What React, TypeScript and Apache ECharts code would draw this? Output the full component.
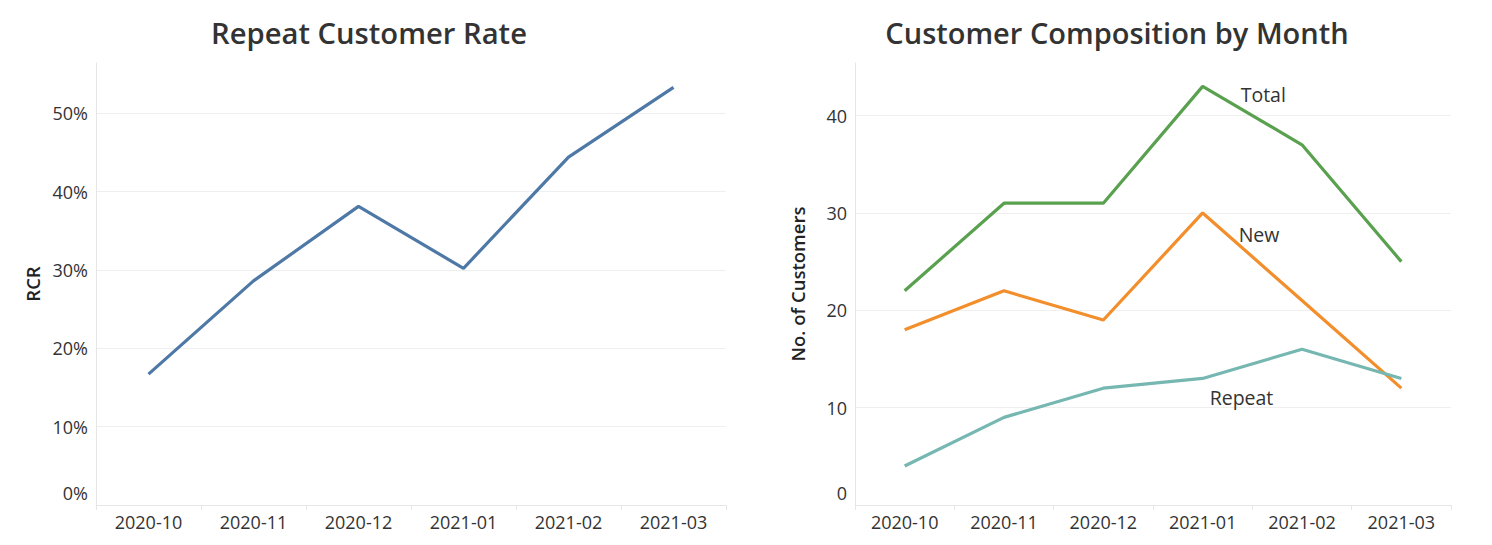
import React, { useEffect, useRef } from "react";
import * as echarts from "echarts";

const months = ["2020-10", "2020-11", "2020-12", "2021-01", "2021-02", "2021-03"];
const rcr = [0.167, 0.286, 0.381, 0.302, 0.444, 0.533];
const totalCustomers = [22, 31, 31, 43, 37, 25];
const newCustomers = [18, 22, 19, 30, 21, 12];
const repeatCustomers = [4, 9, 12, 13, 16, 13];
const labelIndex = 3;

const FONT = "'Open Sans', 'Noto Sans', sans-serif";
const GRID_COLOR = "#efefef";
const AXIS_COLOR = "#e6e6e6";
const TICK_SIZE = 18;

function withLabel(values: number[], name: string, offset: number[]) {
  return values.map((v, i) =>
    i === labelIndex
      ? {
          value: v,
          label: {
            show: true,
            position: "right",
            distance: 5,
            offset,
            formatter: name,
            color: "#333",
            fontSize: 19.5,
            fontWeight: 500,
            fontFamily: FONT,
          },
        }
      : v
  );
}

export default function App() {
  const ref = useRef<HTMLDivElement>(null);
  useEffect(() => {
    document.body.style.margin = "0";
    const chart = echarts.init(ref.current!, null, { renderer: "svg" });
    const yLabel = (fmt: (v: number) => string) => ({
      color: "#333",
      fontSize: TICK_SIZE,
      fontFamily: FONT,
      margin: 8,
      formatter: (v: number) => (v === 0 ? "{z|" + fmt(v) + "}" : fmt(v)),
      rich: { z: { padding: [0, 0, 24, 0], fontSize: TICK_SIZE, color: "#333", fontFamily: FONT } },
    });
    const xAxisBase = (gridIndex: number) => ({
      type: "category",
      gridIndex,
      data: months,
      boundaryGap: true,
      axisLine: { show: true, lineStyle: { color: AXIS_COLOR } },
      axisTick: { show: true, length: 5, lineStyle: { color: AXIS_COLOR } },
      axisLabel: { color: "#333", fontSize: TICK_SIZE, fontFamily: FONT, margin: 8 },
      splitLine: { show: false },
    });
    const nameStyle = { color: "#222", fontSize: 18.5, fontWeight: 600, fontFamily: FONT };
    chart.setOption({
      animation: false,
      textStyle: { fontFamily: FONT },
      title: [
        {
          text: "Repeat Customer Rate",
          left: 364,
          top: 13,
          textAlign: "center",
          textStyle: { fontSize: 29.2, fontWeight: 600, color: "#333", fontFamily: FONT },
        },
        {
          text: "Customer Composition by Month",
          left: 1112,
          top: 13,
          textAlign: "center",
          textStyle: { fontSize: 29, fontWeight: 600, color: "#333", fontFamily: FONT },
        },
      ],
      grid: [
        { left: 96, right: 766, top: 63, bottom: 40 },
        { left: 855, right: 41, top: 63, bottom: 40 },
      ],
      xAxis: [xAxisBase(0), xAxisBase(1)],
      yAxis: [
        {
          type: "value",
          gridIndex: 0,
          min: 0,
          max: 0.564,
          interval: 0.1,
          name: "RCR",
          nameLocation: "middle",
          nameGap: 54,
          nameTextStyle: nameStyle,
          axisLine: { show: true, lineStyle: { color: AXIS_COLOR } },
          axisTick: { show: false },
          axisLabel: { ...yLabel((v) => Math.round(v * 100) + "%"), showMaxLabel: false },
          splitLine: { show: true, showMinLine: false, showMaxLine: false, lineStyle: { color: GRID_COLOR } },
        },
        {
          type: "value",
          gridIndex: 1,
          min: 0,
          max: 45.4,
          interval: 10,
          name: "No. of Customers",
          nameLocation: "middle",
          nameGap: 48,
          nameTextStyle: nameStyle,
          axisLine: { show: true, lineStyle: { color: AXIS_COLOR } },
          axisTick: { show: false },
          axisLabel: { ...yLabel((v) => String(Math.round(v))), showMaxLabel: false },
          splitLine: { show: true, showMinLine: false, showMaxLine: false, lineStyle: { color: GRID_COLOR } },
        },
      ],
      series: [
        {
          type: "line",
          name: "RCR",
          xAxisIndex: 0,
          yAxisIndex: 0,
          data: rcr,
          showSymbol: false,
          color: "#4e79a7",
          lineStyle: { width: 3.2, color: "#4e79a7" },
        },
        {
          type: "line",
          name: "Total",
          xAxisIndex: 1,
          yAxisIndex: 1,
          data: withLabel(totalCustomers, "Total", [33, 8]),
          symbolSize: 0,
          color: "#59a14f",
          lineStyle: { width: 3.2, color: "#59a14f" },
        },
        {
          type: "line",
          name: "New",
          xAxisIndex: 1,
          yAxisIndex: 1,
          data: withLabel(newCustomers, "New", [31, 22]),
          symbolSize: 0,
          color: "#f28e2b",
          lineStyle: { width: 3.2, color: "#f28e2b" },
        },
        {
          type: "line",
          name: "Repeat",
          xAxisIndex: 1,
          yAxisIndex: 1,
          data: withLabel(repeatCustomers, "Repeat", [2, 19]),
          symbolSize: 0,
          color: "#76b7b2",
          lineStyle: { width: 3.2, color: "#76b7b2" },
        },
      ],
    });
    return () => chart.dispose();
  }, []);
  return <div ref={ref} style={{ width: 1492, height: 545 }} />;
}
